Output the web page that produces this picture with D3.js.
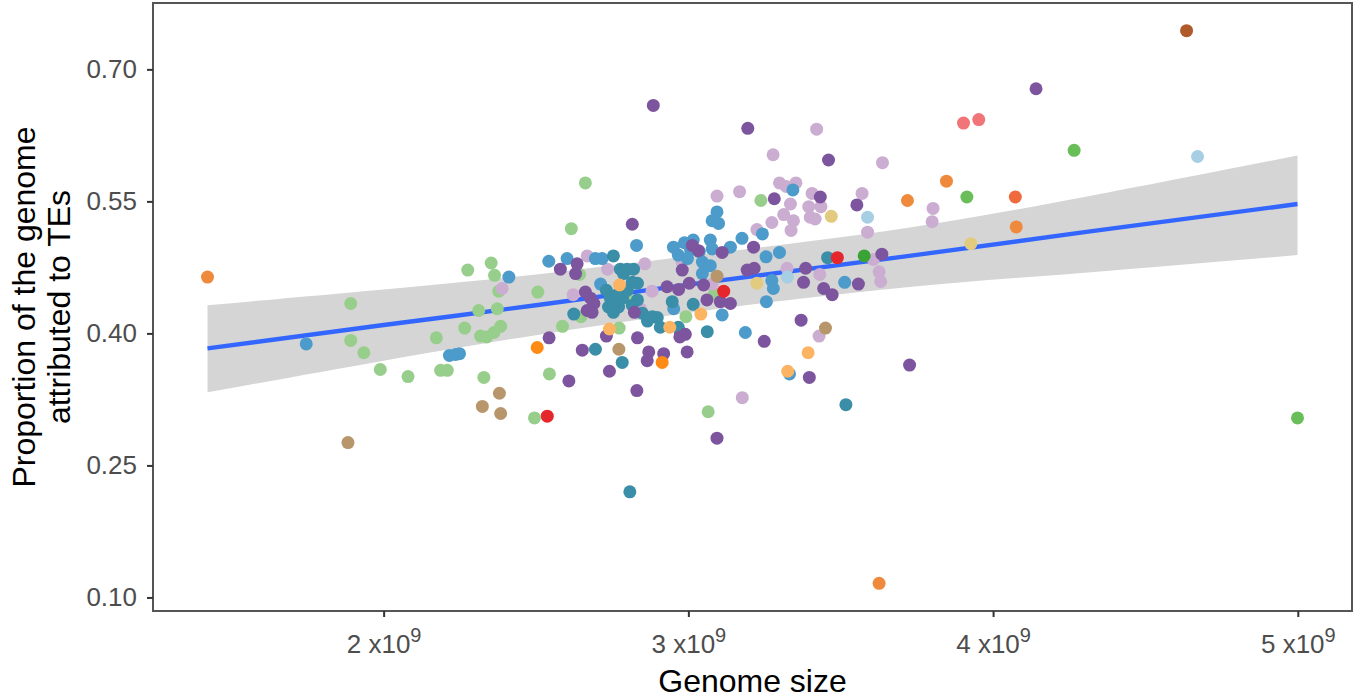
<!DOCTYPE html>
<html><head><meta charset="utf-8">
<script src="https://cdn.jsdelivr.net/npm/d3@7"></script>
<style>
body{margin:0;background:#fff}
svg{display:block}
text{font-family:"Liberation Sans",Arial,Helvetica,sans-serif}
</style>
</head><body>
<svg id="chart" width="1360" height="700"></svg>
<script>
// Genome size (x10^9 bp) and proportion of genome attributed to TEs, by group
const lightGreen = [[1.892,0.434],[1.892,0.392],[1.935,0.378],[1.989,0.359],[2.080,0.351],[2.173,0.395],[2.187,0.358],[2.209,0.358],[2.266,0.406],[2.276,0.472],[2.312,0.426],[2.318,0.397],[2.338,0.396],[2.362,0.401],[2.384,0.408],[2.329,0.350],[2.353,0.480],[2.364,0.466],[2.378,0.448],[2.373,0.428],[2.506,0.447],[2.544,0.354],[2.495,0.304],[2.587,0.408],[2.662,0.571],[2.616,0.519],[2.643,0.467],[2.648,0.419],[2.794,0.441],[2.773,0.406],[2.992,0.419],[3.085,0.445],[3.065,0.311],[3.238,0.551]];
const lavender = [[2.389,0.451],[2.668,0.488],[2.735,0.473],[2.622,0.444],[2.857,0.479],[2.881,0.448],[2.843,0.428],[2.979,0.481],[3.078,0.456],[3.094,0.556],[3.168,0.561],[3.421,0.632],[3.278,0.603],[3.637,0.594],[3.299,0.571],[3.321,0.567],[3.353,0.571],[3.406,0.559],[3.570,0.559],[3.335,0.547],[3.395,0.544],[3.435,0.544],[3.313,0.535],[3.345,0.528],[3.400,0.532],[3.416,0.530],[3.274,0.526],[3.337,0.517],[3.588,0.515],[3.803,0.542],[3.800,0.527],[3.225,0.518],[3.324,0.474],[3.431,0.467],[3.607,0.484],[3.626,0.470],[3.631,0.459],[3.177,0.327],[3.429,0.397]];
const steelBlue = [[1.746,0.388],[2.216,0.375],[2.236,0.376],[2.249,0.377],[2.411,0.464],[2.542,0.482],[2.602,0.485],[2.695,0.485],[2.717,0.485],[2.712,0.456],[2.830,0.500],[2.951,0.498],[2.987,0.503],[3.016,0.506],[3.007,0.495],[3.036,0.493],[2.967,0.489],[2.997,0.485],[3.072,0.506],[3.078,0.496],[3.046,0.481],[3.072,0.477],[3.046,0.468],[3.138,0.498],[3.176,0.508],[3.078,0.528],[3.094,0.538],[3.099,0.525],[3.111,0.421],[2.952,0.428],[3.187,0.401],[3.243,0.513],[3.255,0.487],[3.299,0.492],[3.274,0.460],[3.279,0.451],[3.256,0.436],[3.343,0.563],[3.513,0.458],[3.332,0.354]];
const teal = [[2.754,0.488],[2.777,0.473],[2.799,0.473],[2.820,0.473],[2.787,0.468],[2.731,0.449],[2.744,0.440],[2.738,0.430],[2.754,0.424],[2.771,0.430],[2.784,0.440],[2.800,0.449],[2.816,0.458],[2.833,0.457],[2.833,0.438],[2.816,0.432],[2.767,0.444],[2.757,0.434],[2.624,0.422],[2.849,0.423],[2.866,0.414],[2.882,0.419],[2.898,0.418],[2.908,0.407],[2.947,0.436],[3.016,0.433],[2.967,0.407],[2.974,0.400],[3.062,0.402],[2.695,0.382],[2.783,0.367],[2.808,0.220],[3.517,0.319],[3.457,0.486]];
const purple = [[2.543,0.395],[2.580,0.473],[2.635,0.479],[2.630,0.468],[2.816,0.524],[2.662,0.447],[2.679,0.440],[2.690,0.434],[2.668,0.426],[2.684,0.424],[2.823,0.424],[2.930,0.453],[2.968,0.450],[3.003,0.457],[3.050,0.455],[3.013,0.500],[3.033,0.494],[2.980,0.472],[3.111,0.492],[3.061,0.438],[3.105,0.436],[3.138,0.434],[3.193,0.472],[3.216,0.474],[2.652,0.381],[2.731,0.397],[2.833,0.395],[2.870,0.379],[2.865,0.369],[2.919,0.377],[2.996,0.379],[2.972,0.396],[2.990,0.399],[2.741,0.357],[2.608,0.346],[2.831,0.335],[3.094,0.281],[3.195,0.633],[3.460,0.597],[3.282,0.553],[3.433,0.555],[3.553,0.546],[3.214,0.498],[3.635,0.490],[3.385,0.474],[3.378,0.458],[3.558,0.456],[3.444,0.451],[3.472,0.444],[3.249,0.391],[3.370,0.415],[3.397,0.350],[3.726,0.364],[2.885,0.659],[4.141,0.678]];
const tan = [[2.380,0.332],[2.324,0.317],[2.384,0.309],[1.883,0.276],[2.772,0.382],[3.094,0.465],[3.450,0.406]];
const lightOrange = [[2.774,0.455],[3.041,0.422],[2.939,0.407],[2.741,0.405],[3.393,0.378],[3.326,0.357]];
const brightOrange = [[2.504,0.384],[2.914,0.367]];
const orange = [[1.422,0.464],[3.719,0.551],[3.847,0.573],[4.076,0.521],[3.626,0.116]];
const redOrange = [[4.073,0.555]];
const red = [[2.537,0.306],[3.116,0.448],[3.489,0.486]];
const salmon = [[3.903,0.639],[3.953,0.643]];
const green = [[4.266,0.608],[3.914,0.555],[4.999,0.304]];
const darkGreen = [[3.577,0.488]];
const lightBlue = [[3.588,0.532],[3.325,0.464],[4.671,0.601]];
const khaki = [[3.469,0.533],[3.225,0.457],[3.927,0.502]];
const brown = [[4.635,0.744]];

const groupNames = ["lightGreen","lavender","steelBlue","teal","purple","tan","lightOrange","brightOrange","orange","redOrange","red","salmon","green","darkGreen","lightBlue","khaki","brown"];
const groupColors = ["#98CE8B","#CAADD1","#4C9BCA","#3A8EA7","#7D559F","#B8966C","#FDB462","#FF8A14","#EF8A3D","#EF6A3C","#E5262A","#F17479","#6ABE5A","#3AA335","#A6CFE4","#E2CB7E","#B0592A"];
const groupData = [lightGreen,lavender,steelBlue,teal,purple,tan,lightOrange,brightOrange,orange,redOrange,red,salmon,green,darkGreen,lightBlue,khaki,brown];

// fitted linear trend with 95% confidence band
const fitGenomeSize = [1.422, 2.0, 2.5, 3.1, 3.7, 4.3, 4.999];
const fitMean  = [0.383, 0.4095, 0.432, 0.460, 0.487, 0.515, 0.547];
const fitLower = [0.333, 0.369, 0.398, 0.428, 0.452, 0.469, 0.489];
const fitUpper = [0.432, 0.450, 0.467, 0.492, 0.519, 0.555, 0.602];

const yTicks = [0.10,0.25,0.40,0.55,0.70];
const xTicks = [2,3,4,5];
const xTitle = "Genome size";
const yTitle = ["Proportion of the genome","attributed to TEs"];

const points = groupData.flatMap((g,i)=>g.map(p=>({x:p[0],y:p[1],c:groupColors[i]})));
const band = fitGenomeSize.map((xv,i)=>({x:xv,f:fitMean[i],lo:fitLower[i],hi:fitUpper[i]}));

const svg = d3.select("#chart");
const L=153,R=1352,T=3,B=611;

const xe = d3.extent(points,d=>d.x), ye = d3.extent(points,d=>d.y);
const xr = xe[1]-xe[0], yr = ye[1]-ye[0];
const x = d3.scaleLinear().domain([xe[0]-0.05*xr, xe[1]+0.05*xr]).range([L,R]);
const y = d3.scaleLinear().domain([ye[0]-0.05*yr, ye[1]+0.05*yr]).range([B,T]);

svg.append("path").datum(band)
  .attr("d", d3.area().curve(d3.curveNatural).x(d=>x(d.x)).y0(d=>y(d.lo)).y1(d=>y(d.hi)))
  .attr("fill","#D5D5D5");
svg.append("path").datum(band)
  .attr("d", d3.line().curve(d3.curveNatural).x(d=>x(d.x)).y(d=>y(d.f)))
  .attr("fill","none").attr("stroke","#3366FF").attr("stroke-width",4.4);

svg.append("g").selectAll("circle").data(points).join("circle")
  .attr("cx",d=>x(d.x)).attr("cy",d=>y(d.y)).attr("r",6.5).attr("fill",d=>d.c);

// panel border
svg.append("rect").attr("x",L).attr("y",T).attr("width",R-L).attr("height",B-T)
  .attr("fill","none").attr("stroke","#555").attr("stroke-width",2);

// y axis
const gy = svg.append("g").attr("transform",`translate(${L},0)`)
  .call(d3.axisLeft(y).tickValues(yTicks).tickFormat(d3.format(".2f")).tickSize(6).tickPadding(10));
gy.select(".domain").remove();
gy.selectAll(".tick line").attr("stroke","#333").attr("stroke-width",2);
gy.selectAll(".tick text").attr("fill","#4D4D4D").attr("font-size",26).attr("font-family","Liberation Sans, Arial, sans-serif");

// x axis
const gx = svg.append("g").attr("transform",`translate(0,${B})`)
  .call(d3.axisBottom(x).tickValues(xTicks).tickFormat(()=>"").tickSize(6));
gx.select(".domain").remove();
gx.selectAll(".tick line").attr("stroke","#333").attr("stroke-width",2);
gx.selectAll(".tick text").remove();
gx.selectAll(".tick").append("text")
  .attr("y",42).attr("text-anchor","middle").attr("fill","#4D4D4D")
  .attr("font-size",26).attr("font-family","Liberation Sans, Arial, sans-serif")
  .each(function(d){
    const t = d3.select(this);
    t.append("tspan").text(d+" x10");
    t.append("tspan").attr("dy",-11).attr("font-size",20).text("9");
  });

// titles
svg.append("text").attr("x",(L+R)/2).attr("y",692).attr("text-anchor","middle")
  .attr("font-size",32).attr("fill","#000").text(xTitle);
const yt = svg.append("text").attr("transform","rotate(-90)").attr("text-anchor","middle")
  .attr("font-size",32).attr("fill","#000");
yt.append("tspan").attr("x",-(T+B)/2).attr("y",35).text(yTitle[0]);
yt.append("tspan").attr("x",-(T+B)/2).attr("y",70).text(yTitle[1]);
</script>
</body></html>
